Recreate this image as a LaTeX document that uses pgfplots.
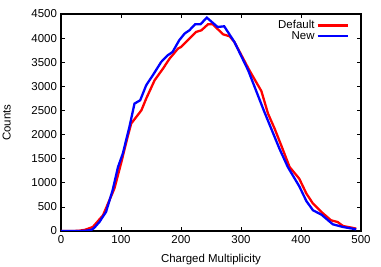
\documentclass[border=0pt]{standalone}
\usepackage{fontspec}
\setmainfont{Liberation Sans}
\usepackage{pgfplots}
\pgfplotsset{compat=1.18}
\begin{document}
\fontsize{11.5}{13}\selectfont
\begin{tikzpicture}
\begin{axis}[
  scale only axis,
  width=300bp, height=217bp,
  xmin=0, xmax=500, ymin=0, ymax=4500,
  xtick={0,100,200,300,400,500},
  ytick={0,500,1000,1500,2000,2500,3000,3500,4000,4500},
  tick align=inside,
  major tick length=4bp,
  axis line style={line width=1.2pt},
  tick style={line width=0.6pt, black},
  /pgf/number format/assume math mode=true,
  /pgf/number format/1000 sep={},
  scaled y ticks=false,
  xlabel={Charged Multiplicity},
  ylabel={Counts},
  xlabel style={yshift=-3bp},
  ylabel style={yshift=13bp},
  legend style={draw=none, fill=none, at={(0.97,0.99)}, anchor=north east,
    row sep=-3bp, font=\fontsize{11.5}{13}\selectfont},
  legend cell align=right,
  legend plot pos=right,
  legend image code/.code={\draw[#1] (0bp,0bp) -- (30bp,0bp);},
]
\coordinate (sw) at (rel axis cs:0,0);
\coordinate (ne) at (rel axis cs:1,1);
\addplot[color=red, line width=2.3pt] coordinates {
(0,0) (10,0) (20,0) (30,5) (40,25) (53,83) (70,326) (89,880) (100,1398)
(111,1950) (117,2228) (134,2503) (142,2746) (156,3125) (170,3368) (181,3575)
(195,3782) (200,3816) (214,3990) (225,4128) (234,4162) (245,4287) (253,4287)
(270,4079) (281,4038) (289,3920) (314,3332) (334,2900) (345,2435) (356,2124)
(367,1777) (381,1327) (397,1087) (409,776) (420,568) (436,373) (450,222)
(461,187) (470,104) (492,50)
};
\addlegendentry{Default}
\addplot[color=blue, line width=2.3pt] coordinates {
(0,0) (10,0) (20,0) (30,0) (40,5) (50,20) (55,60) (64,187) (75,394) (86,844)
(95,1327) (103,1605) (114,2157) (122.5,2642) (132,2711) (142,3022) (153,3229)
(167,3506) (178,3645) (186,3713) (197,3955) (206,4094) (214,4162) (223.5,4287)
(232.5,4287) (243,4425) (261,4231) (272,4245) (289,3920) (312,3330) (339,2468)
(364,1709) (378,1327) (397,930) (409,620) (420,429) (434,340) (453,139)
(470,83) (492,35)
};
\addlegendentry{New}
\end{axis}
\pgfresetboundingbox
\path ([shift={(-61bp,-36bp)}]sw) rectangle ([shift={(20bp,14bp)}]ne);
\end{tikzpicture}
\end{document}
